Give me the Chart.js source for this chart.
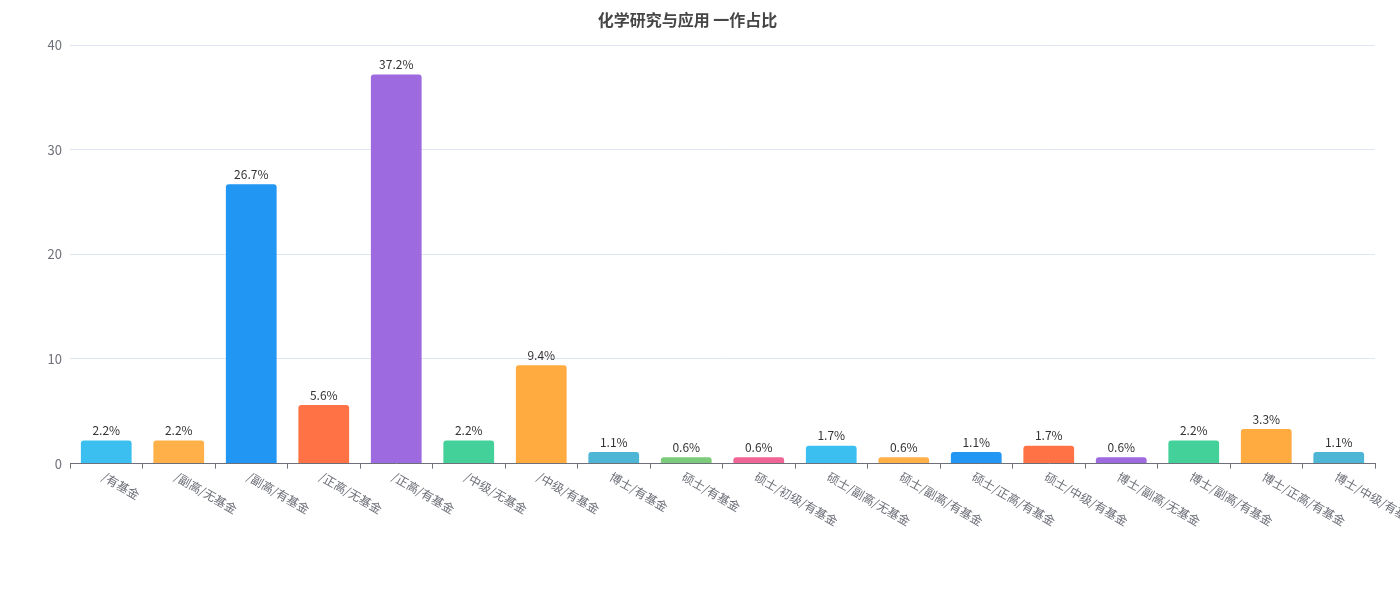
<!DOCTYPE html>
<html><head><meta charset="utf-8">
<script src="https://cdn.jsdelivr.net/npm/chart.js@4"></script>
<style>html,body{margin:0;background:#fff}#w{width:1400px;height:600px}</style>
</head><body><div id="w"><canvas id="c"></canvas></div>
<script>
const categories=["/有基金","/副高/无基金","/副高/有基金","/正高/无基金","/正高/有基金","/中级/无基金","/中级/有基金","博士/有基金","硕士/有基金","硕士/初级/有基金","硕士/副高/无基金","硕士/副高/有基金","硕士/正高/有基金","硕士/中级/有基金","博士/副高/无基金","博士/副高/有基金","博士/正高/有基金","博士/中级/有基金"];
const values=[2.2,2.2,26.7,5.6,37.2,2.2,9.4,1.1,0.6,0.6,1.7,0.6,1.1,1.7,0.6,2.2,3.3,1.1];
const palette=["#3BBFF1","#FFB048","#2196F3","#FF7245","#9D6BDF","#43D199","#FFAB40","#4DB6D5","#7BCB7B","#F06595"];
const FONT='"Noto Sans CJK SC","Noto Sans",sans-serif';
const labelsPlugin={id:'lbl',afterDatasetsDraw(ch){
  const ctx=ch.ctx,meta=ch.getDatasetMeta(0),xs=ch.scales.x;
  ctx.save();ctx.font='12px '+FONT;ctx.fillStyle='#333';ctx.textAlign='center';ctx.textBaseline='bottom';
  meta.data.forEach((b,i)=>ctx.fillText(values[i].toFixed(1)+'%',b.x,b.y-4));
  ctx.fillStyle='#6e7079';ctx.textAlign='left';ctx.textBaseline='middle';
  categories.forEach((c,i)=>{const x=xs.getPixelForValue(i);ctx.save();ctx.translate(x-3,xs.top+12);ctx.rotate(Math.PI/6);ctx.fillText(c,0,0);ctx.restore();});
  ctx.restore();}};
new Chart(document.getElementById('c'),{type:'bar',
 data:{labels:categories,datasets:[{data:values,backgroundColor:categories.map((_,i)=>palette[i%10]),borderRadius:{topLeft:3,topRight:3},borderSkipped:'bottom',barPercentage:0.7,categoryPercentage:1}]},
 options:{responsive:true,maintainAspectRatio:false,animation:false,
  layout:{padding:{left:0,right:25,bottom:111,top:0}},
  plugins:{legend:{display:false},tooltip:{enabled:false},
   title:{display:true,text:'化学研究与应用 一作占比',color:'#464646',font:{family:FONT,size:16,weight:'bold'},padding:{top:10,bottom:16}}},
  scales:{
   x:{grid:{display:true,drawOnChartArea:false,offset:true,tickLength:5,color:'#6e7079'},border:{color:'#6e7079'},ticks:{callback:()=>'' ,maxRotation:0}},
   y:{min:0,max:40,afterFit:s=>{s.width=70;},ticks:{stepSize:10,color:'#6e7079',font:{family:FONT,size:13},padding:8},grid:{color:'#e0e6f1',drawTicks:false},border:{display:false}}}},
 plugins:[labelsPlugin]});
</script></body></html>
